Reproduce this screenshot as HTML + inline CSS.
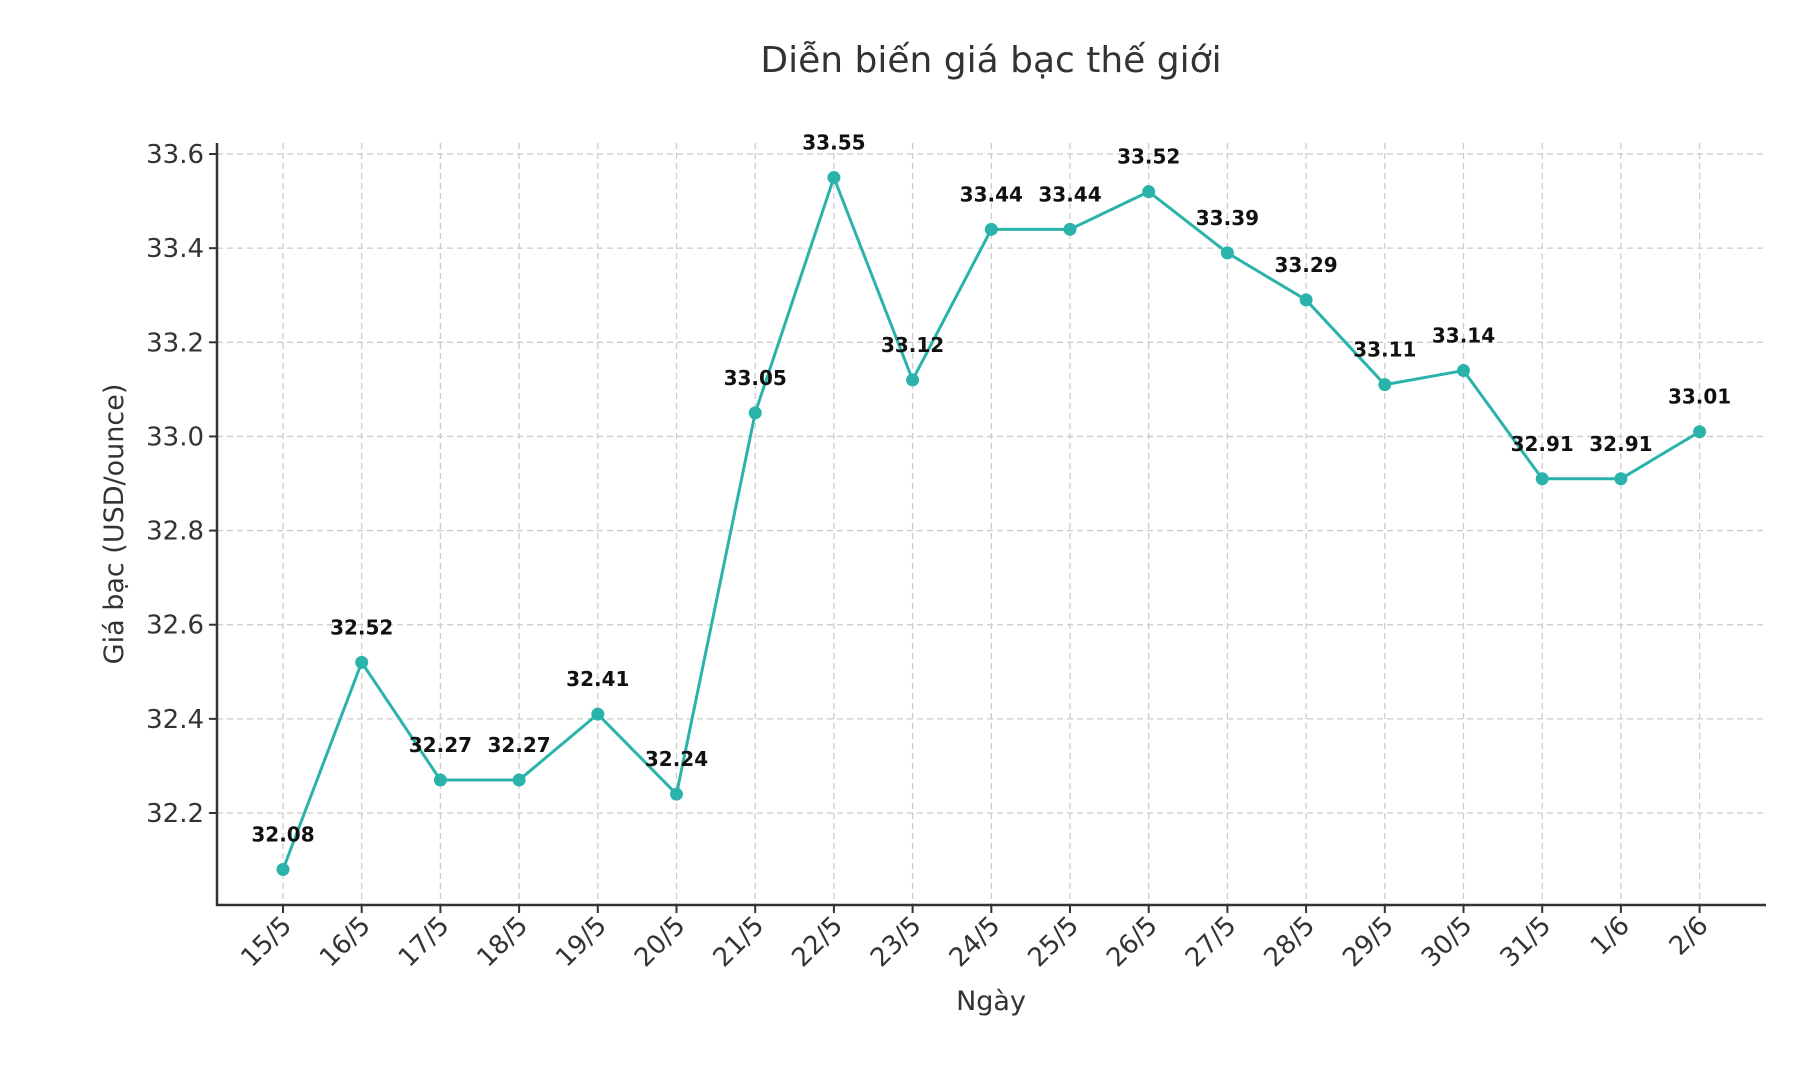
<!DOCTYPE html>
<html><head><meta charset="utf-8"><style>
html,body{margin:0;padding:0;background:#fff;}
svg{display:block;font-family:"DejaVu Sans","Liberation Sans",sans-serif;}
</style></head><body>
<svg id="chart" width="1819" height="1077" viewBox="0 0 1819 1077">
<text x="991" y="72" text-anchor="middle" font-size="36" fill="#333">Diễn biến giá bạc thế giới</text>
<text x="991" y="1010" text-anchor="middle" font-size="27" fill="#333">Ngày</text>
<text x="0" y="0" transform="translate(123,524) rotate(-90)" text-anchor="middle" font-size="27" fill="#333">Giá bạc (USD/ounce)</text>
<g id="grid"></g><g id="axes"></g><g id="series"></g><g id="labels"></g>
</svg>
<script>
const categories=["15/5","16/5","17/5","18/5","19/5","20/5","21/5","22/5","23/5","24/5","25/5","26/5","27/5","28/5","29/5","30/5","31/5","1/6","2/6"];
const prices=[32.08,32.52,32.27,32.27,32.41,32.24,33.05,33.55,33.12,33.44,33.44,33.52,33.39,33.29,33.11,33.14,32.91,32.91,33.01];
const yTicks=[32.2,32.4,32.6,32.8,33.0,33.2,33.4,33.6];
const NS="http://www.w3.org/2000/svg";
const L=217,R=1766,T=143,B=905;
const yMin=32.2-(905-813)/470.7, yMax=33.6+(154-143)/470.7;
function xs(i){return 283+i*78.7;}
function ys(v){return 813-(v-32.2)*470.7;}
function mk(tag,attrs,parent){const e=document.createElementNS(NS,tag);for(const k in attrs)e.setAttribute(k,attrs[k]);parent.appendChild(e);return e;}
const grid=document.getElementById('grid'),axes=document.getElementById('axes'),series=document.getElementById('series'),labels=document.getElementById('labels');
yTicks.forEach(v=>{
  const y=ys(v);
  const g=mk('line',{x1:L,x2:R,y1:y,y2:y,stroke:'#ccc','stroke-width':1.3,'stroke-dasharray':'6,4'},grid);
  
  
  const t=mk('line',{x1:L-8,x2:L,y1:y,y2:y,stroke:'#333','stroke-width':2},axes);
  
  
  const tx=mk('text',{x:L-13,y:y+9,'text-anchor':'end','font-size':26,fill:'#333'},axes);
  tx.textContent=v.toFixed(1);
  
  
});
categories.forEach((c,i)=>{
  const x=xs(i);
  const g=mk('line',{x1:x,x2:x,y1:T,y2:B,stroke:'#ccc','stroke-width':1.3,'stroke-dasharray':'6,4'},grid);
  
  
  const t=mk('line',{x1:x,x2:x,y1:B,y2:B+8,stroke:'#333','stroke-width':2},axes);
  
  
  const tx=mk('text',{x:0,y:0,transform:`translate(${x+10},${B+22}) rotate(-45)`,'text-anchor':'end','font-size':26,fill:'#333'},axes);
  tx.textContent=c;
  
  
});
const yl=mk('line',{x1:L,x2:L,y1:T,y2:B+1,stroke:'#333','stroke-width':2.5},axes);


const xl=mk('line',{x1:L-1,x2:R,y1:B,y2:B,stroke:'#333','stroke-width':2.5},axes);


const pl=mk('polyline',{points:prices.map((v,i)=>xs(i)+','+ys(v)).join(' '),fill:'none',stroke:'#2ab3aa','stroke-width':3,'stroke-linejoin':'round'},series);


prices.forEach((v,i)=>{
  const c=mk('circle',{cx:xs(i),cy:ys(v),r:6.5,fill:'#2ab3aa'},series);
  
  
  const t=mk('text',{x:xs(i),y:ys(v)-28,'text-anchor':'middle','font-size':20,'font-weight':'bold',fill:'#111'},labels);
  t.textContent=v.toFixed(2);
  
  
});
</script>
</body></html>
